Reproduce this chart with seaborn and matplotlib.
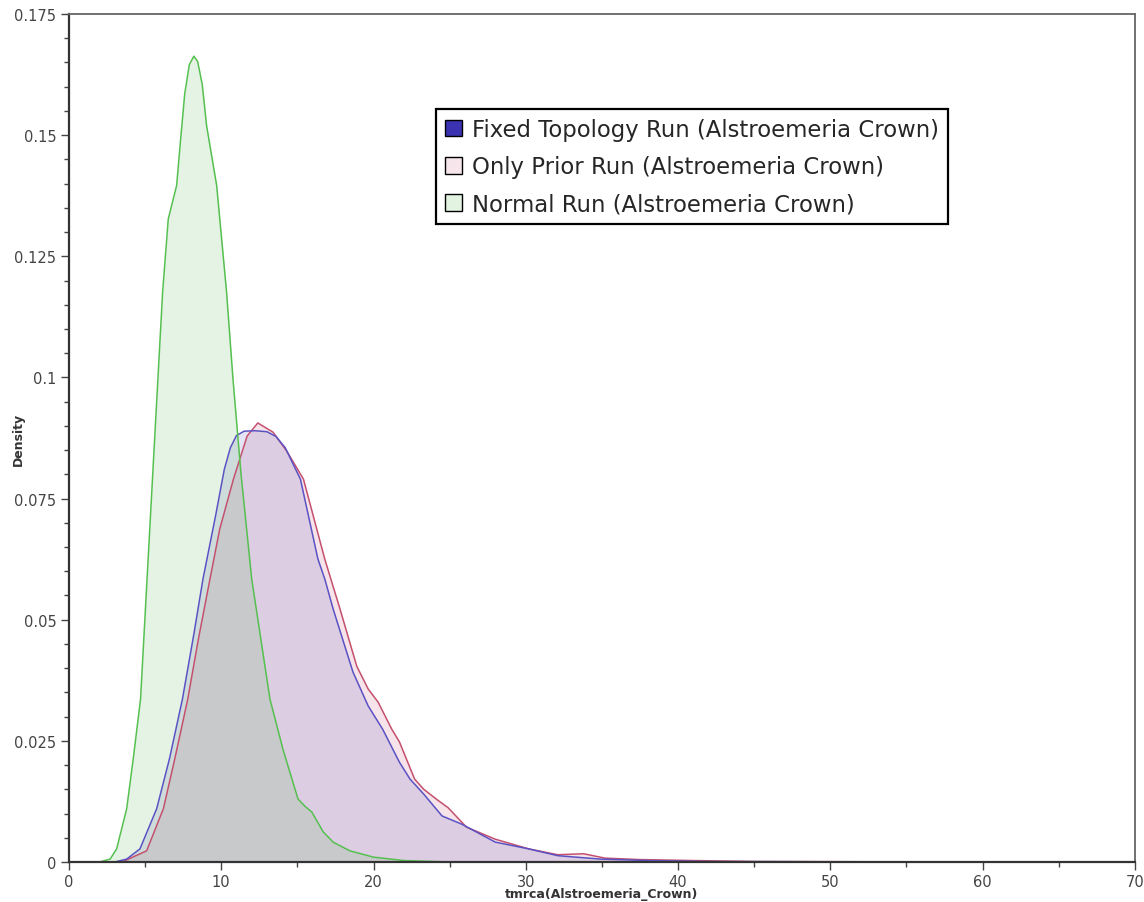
import pandas as pd
import matplotlib.pyplot as plt
import seaborn as sns
from matplotlib.patches import Patch
from matplotlib.ticker import MultipleLocator, FuncFormatter

# tmrca(Alstroemeria_Crown) density curves
fixed_x = [3.0, 3.79, 4.66, 5.76, 6.6, 7.45, 8.2, 8.8, 9.6, 10.2, 10.6, 11.0, 11.5, 12.2,
           13.0, 13.6, 14.2, 15.2, 16.35, 16.8, 17.35, 18.65, 19.65, 20.6, 21.7, 22.4,
           23.3, 24.5, 25.8, 28.0, 30.2, 32.1, 34.9, 38.0, 42.0, 50.0, 62.0]
fixed_d = [0.0, 0.0006, 0.0027, 0.011, 0.0213, 0.0336, 0.047, 0.0584, 0.071, 0.081, 0.0855,
           0.088, 0.0889, 0.089, 0.0888, 0.0878, 0.0855, 0.079, 0.0625, 0.0584, 0.0522,
           0.0392, 0.0322, 0.0274, 0.0206, 0.0171, 0.014, 0.0095, 0.0078, 0.0041, 0.0027,
           0.0013, 0.0006, 0.0003, 0.0001, 0.00005, 0.0]

prior_x = [3.5, 3.9, 5.1, 6.2, 6.95, 7.8, 8.5, 9.26, 9.9, 10.8, 11.7, 12.4, 13.4, 14.3,
           15.4, 16.8, 17.8, 18.9, 19.65, 20.3, 21.2, 21.7, 22.7, 23.3, 24.2, 24.9, 26.1,
           28.0, 30.2, 32.1, 33.8, 35.2, 37.5, 41.0, 45.0, 60.0]
prior_d = [0.0, 0.0006, 0.0023, 0.011, 0.0213, 0.0336, 0.046, 0.0584, 0.0687, 0.079, 0.0879,
           0.0906, 0.0887, 0.0848, 0.079, 0.0625, 0.0522, 0.0404, 0.0357, 0.033, 0.0274,
           0.0248, 0.0171, 0.015, 0.0128, 0.0112, 0.0072, 0.0047, 0.0027, 0.0015, 0.0017,
           0.0008, 0.0005, 0.0003, 0.0001, 0.0]

normal_x = [2.0, 2.7, 3.13, 3.79, 4.22, 4.7, 5.12, 5.84, 6.15, 6.52, 7.07, 7.3, 7.6, 7.9,
            8.2, 8.45, 8.75, 9.04, 9.7, 10.35, 10.77, 11.3, 12.0, 13.2, 14.05, 15.04, 15.5,
            15.95, 16.7, 17.35, 18.45, 20.0, 22.0, 25.0]
normal_d = [0.0, 0.0006, 0.0027, 0.011, 0.0213, 0.0336, 0.058, 0.0997, 0.1176, 0.1327,
            0.1396, 0.148, 0.1585, 0.1645, 0.1663, 0.1652, 0.1605, 0.1519, 0.1396, 0.1176,
            0.0997, 0.08, 0.0584, 0.0336, 0.0233, 0.013, 0.0115, 0.0103, 0.0062, 0.0041,
            0.0023, 0.001, 0.0003, 0.0]

runs = ["Fixed Topology Run (Alstroemeria Crown)",
        "Only Prior Run (Alstroemeria Crown)",
        "Normal Run (Alstroemeria Crown)"]

# long table for seaborn
df = pd.concat([
    pd.DataFrame({"x": prior_x, "d": prior_d, "run": runs[1]}),
    pd.DataFrame({"x": fixed_x, "d": fixed_d, "run": runs[0]}),
    pd.DataFrame({"x": normal_x, "d": normal_d, "run": runs[2]}),
])

line_col = {runs[0]: "#5a52c4", runs[1]: "#c4506e", runs[2]: "#55c050"}
fill_col = {runs[0]: ("#4646b4", 0.14), runs[1]: ("#c85078", 0.15), runs[2]: ("#58b858", 0.16)}
patch_col = {runs[0]: "#3a32b0", runs[1]: "#f6e6ec", runs[2]: "#e2f3e2"}

sns.set_theme(style="white")
plt.rcParams["font.family"] = ["DejaVu Sans"]

fig = plt.figure(figsize=(11.44, 9.03), dpi=100)
ax = fig.add_axes([0.0603, 0.0443, 0.9317, 0.9391])

for run in [runs[1], runs[0], runs[2]]:
    sub = df[df["run"] == run]
    c, a = fill_col[run]
    ax.fill_between(sub["x"], 0, sub["d"], color=c, alpha=a, linewidth=0)

sns.lineplot(data=df, x="x", y="d", hue="run", palette=line_col, sort=False,
             estimator=None, linewidth=1.1, legend=False, ax=ax)

ax.set_xlim(0, 70)
ax.set_ylim(0, 0.175)
ax.xaxis.set_major_locator(MultipleLocator(10))
ax.xaxis.set_minor_locator(MultipleLocator(5))
ax.yaxis.set_major_locator(MultipleLocator(0.025))
ax.yaxis.set_minor_locator(MultipleLocator(0.005))
ax.yaxis.set_major_formatter(FuncFormatter(lambda v, p: "0" if v == 0 else f"{v:.3f}".rstrip("0")))

tick_font = ["Liberation Sans Narrow", "DejaVu Sans"]
ax.tick_params(which="major", direction="out", length=6, width=1, color="#444444",
               labelsize=10.5, labelcolor="#444444", left=True, bottom=True, pad=3)
ax.tick_params(which="minor", direction="out", length=3.5, width=1, color="#444444",
               left=True, bottom=True)
for lab in ax.get_xticklabels() + ax.get_yticklabels():
    lab.set_family(tick_font)

for side in ["left", "bottom"]:
    ax.spines[side].set_color("#333333")
    ax.spines[side].set_linewidth(1.6)
for side in ["top", "right"]:
    ax.spines[side].set_color("#666666")
    ax.spines[side].set_linewidth(1.3)

ax.set_xlabel("tmrca(Alstroemeria_Crown)", fontsize=9, fontweight="bold",
              color="#333333", va="center")
ax.xaxis.set_label_coords(0.5, -0.0375)
ax.set_ylabel("Density", fontsize=9, fontweight="bold", color="#333333", va="center")
ax.yaxis.set_label_coords(-0.0475, 0.5)

handles = [Patch(facecolor=patch_col[r], edgecolor="black", linewidth=1) for r in runs]
leg = ax.legend(handles, runs, loc="upper left", bbox_to_anchor=(0.344, 0.888),
                borderaxespad=0, fontsize=16.4, frameon=True, fancybox=False,
                handlelength=0.75, handleheight=0.75, handletextpad=0.45,
                labelspacing=0.62, borderpad=0.4)
leg.get_frame().set_edgecolor("black")
leg.get_frame().set_linewidth(1.6)
leg.get_frame().set_alpha(1)

fig.savefig("out.png", dpi=100)
